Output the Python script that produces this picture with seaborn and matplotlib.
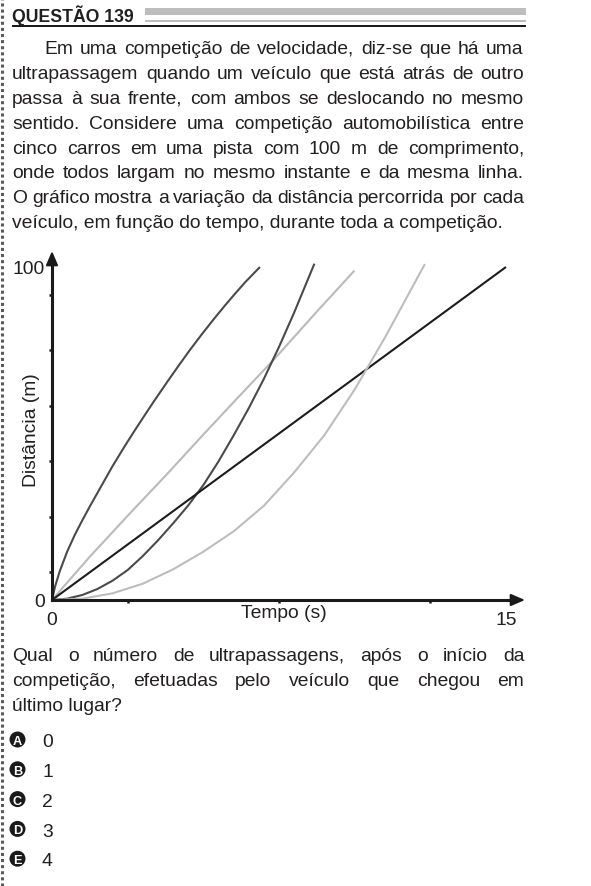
import numpy as np
import pandas as pd
import matplotlib
matplotlib.use("Agg")
import matplotlib.pyplot as plt
from matplotlib.patches import Rectangle, Circle
from matplotlib.lines import Line2D
import seaborn as sns

# ---------------- data ----------------
t_carro1 = [0, 0.1, 0.25, 0.5, 0.75, 1.0, 1.25, 1.64, 2.0, 2.41, 2.74, 3.1, 3.4, 3.8,
            4.17, 4.55, 4.95, 5.35, 5.72, 6.05, 6.38, 6.87]
d_carro1 = [0, 4.0, 8.5, 14.5, 19.5, 23.9, 28.1, 34.4, 40.2, 46.3, 51.0, 56.0, 60.1, 65.4,
            70.2, 75.0, 79.8, 84.4, 88.5, 92.0, 95.4, 100]

t_carro2 = [0, 1.2, 2.5, 3.8, 4.89, 6.05, 7.37, 8.69, 9.99]
d_carro2 = [0, 12.5, 25.3, 37.8, 48.6, 59.9, 72.6, 86.0, 98.9]

t_carro3 = [0, 0.5, 1.0, 1.5, 2.0, 2.5, 3.0, 3.5, 4.0, 4.5, 5.0, 5.5, 6.0, 6.5, 7.0,
            7.5, 8.0, 8.67]
d_carro3 = [0, 0.4, 1.5, 3.3, 5.8, 9.0, 13.2, 17.9, 23.0, 28.4, 34.5, 41.6, 49.4, 57.6, 66.4,
            76.0, 86.3, 101]

t_carro4 = [0, 15]
d_carro4 = [0, 100]

t_carro5 = [0, 1, 2, 3, 4, 5, 6, 7, 8, 9, 10, 11, 12.32]
d_carro5 = [0, 0.4, 2.0, 4.9, 9.2, 14.5, 20.6, 28.3, 38.3, 49.5, 63.2, 78.8, 100.9]

carros = ["carro 1", "carro 2", "carro 3", "carro 4", "carro 5"]
cores = {"carro 1": "#4a4a4a", "carro 2": "#bababa", "carro 3": "#4a4a4a",
         "carro 4": "#1c1c1c", "carro 5": "#bdbdbd"}

x_major = [0, 5, 10, 15]
x_major_labels = ["0", "", "", "15"]
x_minor = [2.5, 7.5, 12.5]
y_major = [0, 100 / 6, 200 / 6, 50, 400 / 6, 500 / 6, 100]
y_major_labels = ["0", "", "", "", "", "", "100"]
y_minor = [100 / 12, 300 / 12, 500 / 12, 700 / 12, 900 / 12, 1100 / 12]

frames = []
for nome, tt, dd in zip(carros, [t_carro1, t_carro2, t_carro3, t_carro4, t_carro5],
                        [d_carro1, d_carro2, d_carro3, d_carro4, d_carro5]):
    frames.append(pd.DataFrame({"tempo": tt, "dist": dd, "carro": nome}))
df = pd.concat(frames, ignore_index=True)

# ---------------- style ----------------
sns.set_theme(style="white")
plt.rcParams["font.family"] = ["Liberation Sans", "DejaVu Sans"]

W, H = 591, 887
fig = plt.figure(figsize=(W / 100, H / 100), dpi=100)
fig.patch.set_facecolor("white")


def fx(px):
    return px / W


def fy(py):
    return 1 - py / H


BODY = 13.9
TXT = "#231f20"

# left dotted border
fig.add_artist(Line2D([fx(2), fx(2)], [0, 1], transform=fig.transFigure,
                      color="#5a5a5a", lw=2.2, linestyle=(0, (1, 1))))

# header
fig.text(fx(12), fy(22.5), "QUESTÃO 139", fontsize=12.7, fontweight="bold",
         color=TXT, va="baseline", ha="left")
fig.add_artist(Rectangle((fx(145), fy(16)), (526 - 145) / W, 7 / H,
                         transform=fig.transFigure, color="#bdbdbd", lw=0))
fig.add_artist(Rectangle((fx(145), fy(22.7)), (526 - 145) / W, 1.7 / H,
                         transform=fig.transFigure, color="#bdbdbd", lw=0))
fig.add_artist(Rectangle((fx(12), fy(28)), (526 - 12) / W, 2.2 / H,
                         transform=fig.transFigure, color="#1a1a1a", lw=0))

renderer = fig.canvas.get_renderer()


def write_line(line, base_px, x0, x1=None, size=BODY):
    words = line.split(" ")
    if x1 is None:
        fig.text(fx(x0), fy(base_px), line, fontsize=size, color=TXT,
                 va="baseline", ha="left")
        return
    texts = [fig.text(0, 0, w, fontsize=size, color=TXT, va="baseline", ha="left")
             for w in words]
    widths = [t.get_window_extent(renderer).width for t in texts]
    min_gap = 3.2
    need = sum(widths) + min_gap * (len(words) - 1)
    if need > (x1 - x0):
        f = (x1 - x0 - min_gap * (len(words) - 1)) / sum(widths)
        for t in texts:
            t.set_fontsize(size * f)
        widths = [t.get_window_extent(renderer).width for t in texts]
    gap = (x1 - x0 - sum(widths)) / (len(words) - 1)
    x = x0
    for t, w in zip(texts, widths):
        t.set_position((fx(round(x)), fy(base_px)))
        x += w + gap


paragrafo = [
    "Em uma competição de velocidade, diz-se que há uma",
    "ultrapassagem quando um veículo que está atrás de outro",
    "passa à sua frente, com ambos se deslocando no mesmo",
    "sentido. Considere uma competição automobilística entre",
    "cinco carros em uma pista com 100 m de comprimento,",
    "onde todos largam no mesmo instante e da mesma linha.",
    "O gráfico mostra a variação da distância percorrida por cada",
    "veículo, em função do tempo, durante toda a competição.",
]
for i, ln in enumerate(paragrafo):
    base = round(54.5 + 24.8 * i)
    if i == 0:
        write_line(ln, base, 44, 524)
    elif i == len(paragrafo) - 1:
        write_line(ln, base, 12)
    else:
        write_line(ln, base, 12, 524)

pergunta = [
    "Qual o número de ultrapassagens, após o início da",
    "competição, efetuadas pelo veículo que chegou em",
    "último lugar?",
]
for i, ln in enumerate(pergunta):
    base = round(661 + 24.8 * i)
    if i < 2:
        write_line(ln, base, 12, 524)
    else:
        write_line(ln, base, 12)

letras = ["A", "B", "C", "D", "E"]
valores = ["0", "1", "2", "3", "4"]
for i, (l, v) in enumerate(zip(letras, valores)):
    cy = 740.5 + 29.8 * i
    fig.add_artist(Circle((17.5 / 100, (H - cy) / 100), 8.0 / 100,
                          transform=fig.dpi_scale_trans, color="#1a1a1a", lw=0))
    fig.text(fx(17.5), fy(cy), l, fontsize=9.2, fontweight="bold", color="white",
             ha="center", va="center_baseline")
    fig.text(fx(42), fy(cy + 6.8), v, fontsize=BODY, color=TXT, va="baseline", ha="left")

# ---------------- chart ----------------
x0p, x15p, xtip = 52, 506, 525
y0p, y100p, ytip = 601, 268, 252
xmax = 15 * (xtip - x0p) / (x15p - x0p)
ymax = 100 * (y0p - ytip) / (y0p - y100p)

ax = fig.add_axes([fx(x0p), fy(y0p), (xtip - x0p) / W, (y0p - ytip) / H])
ax.set_facecolor("none")
sns.lineplot(data=df, x="tempo", y="dist", hue="carro", palette=cores,
             estimator=None, sort=False, legend=False, linewidth=1.5, ax=ax)
for ln in ax.get_lines():
    ln.set_solid_joinstyle("round")
    ln.set_solid_capstyle("butt")
ax.set_xlim(0, xmax)
ax.set_ylim(0, ymax)

for s in ["top", "right"]:
    ax.spines[s].set_visible(False)
for s in ["left", "bottom"]:
    ax.spines[s].set_color("#1a1a1a")
    ax.spines[s].set_linewidth(2.2)
ax.spines["left"].set_bounds(0, ymax - 2.5)
ax.spines["bottom"].set_bounds(0, xmax - 0.4)

ax.annotate("", xy=(0, ymax), xytext=(0, ymax - 3), annotation_clip=False,
            arrowprops=dict(arrowstyle="-|>,head_length=0.7,head_width=0.3",
                            color="#1a1a1a", lw=1.5, shrinkA=0, shrinkB=0))
ax.annotate("", xy=(xmax, 0), xytext=(xmax - 0.5, 0), annotation_clip=False,
            arrowprops=dict(arrowstyle="-|>,head_length=0.7,head_width=0.3",
                            color="#1a1a1a", lw=1.5, shrinkA=0, shrinkB=0))

ax.set_xticks(x_major, labels=x_major_labels)
ax.set_xticks(x_minor, minor=True)
ax.set_yticks(y_major, labels=y_major_labels)
ax.set_yticks(y_minor, minor=True)
ax.tick_params(axis="both", which="major", direction="out", length=4.5, width=2,
               color="#1a1a1a", labelsize=BODY, labelcolor=TXT)
ax.tick_params(axis="both", which="minor", direction="out", length=2.5, width=1.8,
               color="#1a1a1a")
ax.tick_params(axis="x", which="major", pad=3.5)
ax.tick_params(axis="y", which="major", pad=0.5)
ax.tick_params(axis="x", which="minor", bottom=True)
ax.tick_params(axis="y", which="minor", left=True)

ax.set_xlabel("Tempo (s)", fontsize=BODY, color=TXT, va="top")
ax.xaxis.set_label_coords((284 - x0p) / (xtip - x0p), -(605 - y0p) / (y0p - ytip))
ax.set_ylabel("Distância (m)", fontsize=BODY, color=TXT, va="center")
ax.yaxis.set_label_coords(-(x0p - 31.5) / (xtip - x0p), (y0p - 430) / (y0p - ytip))

fig.savefig("out.png", dpi=100, facecolor="white")
